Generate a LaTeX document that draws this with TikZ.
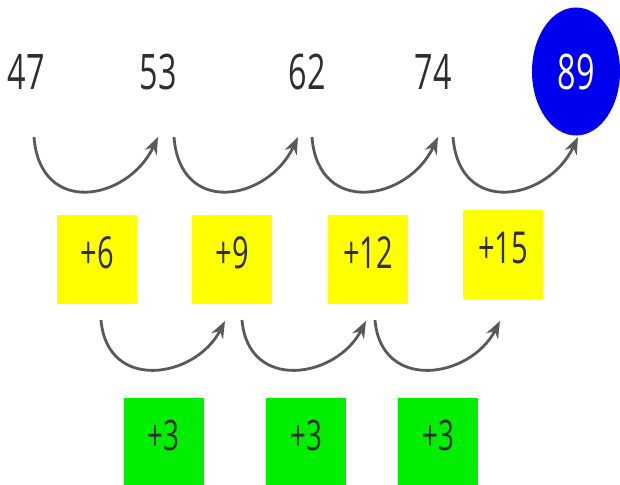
\documentclass[tikz,border=0pt]{standalone}
\usepackage{fontspec}
\setmainfont{Open Sans}[FakeStretch=0.66]
\usetikzlibrary{arrows.meta,shapes.geometric}
\definecolor{txt}{HTML}{2E2E2E}
\definecolor{arrg}{HTML}{595959}
\definecolor{yel}{HTML}{FFFF00}
\definecolor{grn}{HTML}{00EE00}
\definecolor{blu}{HTML}{0000EE}
\begin{document}
\begin{tikzpicture}[x=1pt,y=1pt,
  num/.style={text=txt,font=\fontsize{49}{52}\selectfont,inner sep=0pt},
  ybox/.style={fill=yel,draw=none,minimum width=80pt,minimum height=89pt,inner sep=0pt,
    text=txt,font=\fontsize{44}{48}\selectfont,text depth=14pt},
  gbox/.style={fill=grn,draw=none,minimum width=80pt,minimum height=87pt,inner sep=0pt,
    text=txt,font=\fontsize{42}{46}\selectfont,text depth=12pt},
  arr/.style={draw=arrg,line width=2.8pt,-{Stealth[length=17pt,width=13pt]}}
]
\useasboundingbox (0,0) rectangle (620,-484);
% top numbers
\node[num] (n1) at (26,-72) {47};
\node[num] (n2) at (158,-72) {53};
\node[num] (n3) at (307,-72) {62};
\node[num] (n4) at (433,-72) {74};
\node[ellipse,fill=blu,minimum width=88pt,minimum height=128pt,inner sep=0pt,
  text=white,font=\fontsize{49}{52}\selectfont] (n5) at (576,-71.5) {89};
% top arrows
\coordinate (s1) at (34,-137);  \coordinate (e1) at (158,-137);
\coordinate (s2) at (174,-137); \coordinate (e2) at (298,-137);
\coordinate (s3) at (312,-137); \coordinate (e3) at (438,-137);
\coordinate (s4) at (453,-137); \coordinate (e4) at (578,-137);
\foreach \i in {1,2,3,4}
  \draw[arr] (s\i) .. controls +(6,-80) and +(-30,-64) .. (e\i);
% yellow boxes
\node[ybox] (y1) at (97,-259.5) {+6};
\node[ybox] (y2) at (232,-259.5) {+9};
\node[ybox] (y3) at (368,-259.5) {+12};
\node[ybox] (y4) at (503,-254.5) {+15};
% middle arrows
\coordinate (t1) at (101,-320); \coordinate (f1) at (225,-321);
\coordinate (t2) at (242,-320); \coordinate (f2) at (366,-321);
\coordinate (t3) at (375,-320); \coordinate (f3) at (500,-321);
\foreach \i in {1,2,3}
  \draw[arr] (t\i) .. controls +(6,-72) and +(-30,-58) .. (f\i);
% green boxes
\node[gbox] (g1) at (163.5,-441.5) {+3};
\node[gbox] (g2) at (306,-441.5) {+3};
\node[gbox] (g3) at (438,-441.5) {+3};
\end{tikzpicture}
\end{document}
